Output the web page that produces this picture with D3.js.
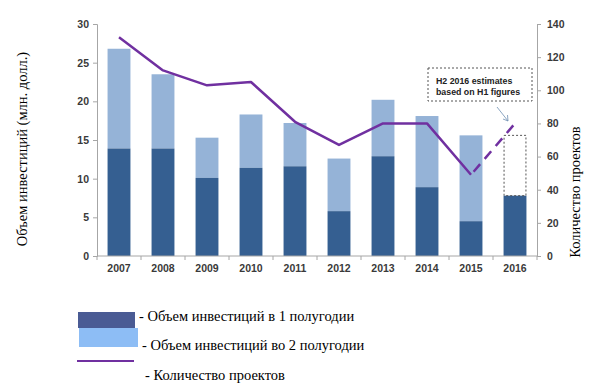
<!DOCTYPE html>
<html>
<head>
<meta charset="utf-8">
<script src="https://cdn.jsdelivr.net/npm/d3@7"></script>
<style>
  body { margin: 0; background: #fff; }
  svg { display: block; }
</style>
</head>
<body>
<div id="chart"></div>
<script>
// data
const years = ['2007', '2008', '2009', '2010', '2011', '2012', '2013', '2014', '2015', '2016'];
const firstHalf = [13.9, 13.9, 10.1, 11.4, 11.6, 5.8, 12.9, 8.9, 4.5, 7.8];
const secondHalf = [12.9, 9.6, 5.2, 6.9, 5.6, 6.8, 7.3, 9.2, 11.1, 7.8]; // 2016 is the estimate
const projects = [132, 112, 103, 105, 81, 67, 80, 80, 49, 80];
const leftTicks = [0, 5, 10, 15, 20, 25, 30];
const rightTicks = [0, 20, 40, 60, 80, 100, 120, 140];

const width = 589;
const height = 391;
const margin = { left: 97, right: 52, top: 24, bottom: 135 };

const svg = d3.select('#chart')
    .append('svg')
    .attr('width', width)
    .attr('height', height);

const x = d3.scaleBand()
    .domain(years)
    .range([margin.left, width - margin.right])
    .paddingInner(0.48)
    .paddingOuter(0.24);

const yLeft = d3.scaleLinear()
    .domain([0, 30])
    .range([height - margin.bottom, margin.top]);

const yRight = d3.scaleLinear()
    .domain([0, 140])
    .range([height - margin.bottom, margin.top]);

const darkBlue = '#355f91';
const lightBlue = '#95b3d7';
const purple = '#7030a0';
const axisColor = '#a6a6a6';
const labelFont = 'Liberation Sans, Arial, sans-serif';
const serif = 'Liberation Serif, Times New Roman, serif';

// bars
const last = years.length - 1;
const stacked = years.map((y, i) => ({ year: y, h1: firstHalf[i], h2: secondHalf[i], est: i === last }));

svg.selectAll('.bar-h2')
    .data(stacked.filter(d => !d.est))
    .enter()
    .append('rect')
    .attr('x', d => x(d.year))
    .attr('width', x.bandwidth())
    .attr('y', d => yLeft(d.h1 + d.h2))
    .attr('height', d => yLeft(d.h1) - yLeft(d.h1 + d.h2))
    .attr('fill', lightBlue);

svg.selectAll('.bar-h1')
    .data(stacked)
    .enter()
    .append('rect')
    .attr('x', d => x(d.year))
    .attr('width', x.bandwidth())
    .attr('y', d => yLeft(d.h1))
    .attr('height', d => yLeft(0) - yLeft(d.h1))
    .attr('fill', darkBlue);

// 2016 estimate box
const est = stacked[last];
svg.append('rect')
    .attr('x', x(est.year) + 0.5)
    .attr('width', x.bandwidth() - 1)
    .attr('y', yLeft(est.h1 + est.h2))
    .attr('height', yLeft(est.h1) - yLeft(est.h1 + est.h2))
    .attr('fill', 'none')
    .attr('stroke', '#555')
    .attr('stroke-width', 1)
    .attr('stroke-dasharray', '2,2');

// axes
const xAxis = svg.append('g')
    .attr('transform', `translate(0,${yLeft(0)})`);
xAxis.append('line')
    .attr('x1', margin.left).attr('x2', width - margin.right)
    .attr('stroke', axisColor);
const bounds = years.map(y => x(y) - x.step() * x.paddingInner() / 2).concat([width - margin.right]);
xAxis.selectAll('.xt')
    .data(bounds)
    .enter()
    .append('line')
    .attr('x1', d => d).attr('x2', d => d)
    .attr('y1', 0).attr('y2', 4)
    .attr('stroke', axisColor);
xAxis.selectAll('.xl')
    .data(years)
    .enter()
    .append('text')
    .attr('x', d => x(d) + x.bandwidth() / 2)
    .attr('y', 16)
    .attr('text-anchor', 'middle')
    .style('font-family', labelFont)
    .style('font-size', '10.5px')
    .style('font-weight', 'bold')
    .attr('fill', '#3a3a3a')
    .text(d => d);

const leftAxis = svg.append('g')
    .attr('transform', `translate(${margin.left},0)`)
    .call(d3.axisLeft(yLeft).tickValues(leftTicks).tickSize(4).tickPadding(4));

const rightAxis = svg.append('g')
    .attr('transform', `translate(${width - margin.right},0)`)
    .call(d3.axisRight(yRight).tickValues(rightTicks).tickSize(4).tickPadding(6));

[leftAxis, rightAxis].forEach(g => {
    g.select('.domain').attr('stroke', axisColor);
    g.selectAll('.tick line').attr('stroke', axisColor);
    g.selectAll('.tick text')
        .style('font-family', labelFont)
        .style('font-size', '10.5px')
        .style('font-weight', 'bold')
        .attr('fill', '#3a3a3a');
});

// project count line
const line = d3.line()
    .x(d => x(d.year) + x.bandwidth() / 2)
    .y(d => yRight(d.value));
const pts = years.map((y, i) => ({ year: y, value: projects[i] }));

svg.append('path')
    .datum(pts.slice(0, last))
    .attr('d', line)
    .attr('fill', 'none')
    .attr('stroke', purple)
    .attr('stroke-width', 2.5)
    .attr('stroke-linejoin', 'round');

svg.append('path')
    .datum(pts.slice(last - 1))
    .attr('d', line)
    .attr('fill', 'none')
    .attr('stroke', purple)
    .attr('stroke-width', 2.5)
    .attr('stroke-dasharray', '10,7')
    .attr('stroke-dashoffset', -4);

// annotation
const note = svg.append('g');
note.append('rect')
    .attr('x', 428).attr('y', 68)
    .attr('width', 104).attr('height', 33)
    .attr('fill', '#fff')
    .attr('stroke', '#555')
    .attr('stroke-dasharray', '2,2');
note.selectAll('text')
    .data(['H2 2016 estimates', 'based on H1 figures'])
    .enter()
    .append('text')
    .attr('x', 436)
    .attr('y', (d, i) => 84 + i * 11)
    .style('font-family', labelFont)
    .style('font-size', '8.8px')
    .style('font-weight', 'bold')
    .attr('fill', '#222')
    .text(d => d);
note.append('line')
    .attr('x1', 497).attr('y1', 107)
    .attr('x2', 508).attr('y2', 121)
    .attr('stroke', '#6f8fb3').attr('stroke-width', 0.8);
note.append('path')
    .attr('d', 'M503,119 L508,121 L507.5,115')
    .attr('fill', 'none')
    .attr('stroke', '#6f8fb3').attr('stroke-width', 0.8);

// axis titles
svg.append('text')
    .attr('transform', 'translate(27,149) rotate(-90)')
    .attr('text-anchor', 'middle')
    .style('font-family', serif)
    .style('font-size', '14.5px')
    .attr('fill', '#000')
    .text('Объем инвестиций (млн. долл.)');

svg.append('text')
    .attr('transform', 'translate(580,192) rotate(-90)')
    .attr('text-anchor', 'middle')
    .style('font-family', serif)
    .style('font-size', '14.5px')
    .attr('fill', '#000')
    .text('Количество проектов');

// legend
const legend = svg.append('g');
legend.append('rect')
    .attr('x', 78).attr('y', 312).attr('width', 57).attr('height', 16)
    .attr('fill', '#4a5b94');
legend.append('rect')
    .attr('x', 79).attr('y', 328).attr('width', 59).attr('height', 19)
    .attr('fill', '#8dbdf5');
legend.append('line')
    .attr('x1', 77).attr('x2', 134).attr('y1', 361).attr('y2', 361)
    .attr('stroke', purple).attr('stroke-width', 2);

const legendItems = [
    { text: '- Объем инвестиций в 1 полугодии', x: 139, y: 321 },
    { text: '- Объем инвестиций во 2 полугодии', x: 142, y: 350 },
    { text: '- Количество проектов', x: 145, y: 380 }
];
legend.selectAll('text')
    .data(legendItems)
    .enter()
    .append('text')
    .attr('x', d => d.x)
    .attr('y', d => d.y)
    .style('font-family', serif)
    .style('font-size', '14.5px')
    .attr('fill', '#000')
    .text(d => d.text);
</script>
</body>
</html>
